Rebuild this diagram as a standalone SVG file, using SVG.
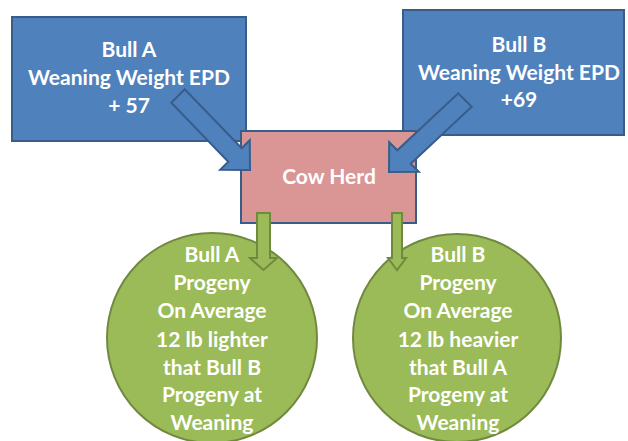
<svg xmlns="http://www.w3.org/2000/svg" width="628" height="441" viewBox="0 0 628 441">
<style>
.box{fill:#4F81BD;stroke:#385D8A;stroke-width:2}
.cow{fill:#D99694;stroke:#385D8A;stroke-width:2}
.circ{fill:#9BBB59;stroke:#71893F;stroke-width:2}
.barr{fill:#4F81BD;stroke:#385D8A;stroke-width:2;stroke-linejoin:miter}
.garr{fill:#9BBB59;stroke:#71893F;stroke-width:2}
text{font-family:Lato,"Liberation Sans",sans-serif;font-weight:bold;font-size:21px;fill:#fff;text-anchor:middle}
</style>
<rect width="628" height="441" fill="#fff"/>
<g id="bullA">
<rect class="box" x="12" y="17" width="234" height="124"/>
<text x="129" y="57">Bull A</text>
<text x="129" y="85">Weaning Weight EPD</text>
<text x="129" y="113">+ 57</text>
</g>
<g id="bullB">
<rect class="box" x="403" y="10" width="221" height="125"/>
<text x="519" y="52">Bull B</text>
<text x="519" y="80">Weaning Weight EPD</text>
<text x="519" y="107">+69</text>
</g>
<g id="cowHerd">
<rect class="cow" x="241" y="131" width="175" height="92"/>
<text x="329" y="184">Cow Herd</text>
</g>
<g id="progenyA">
<circle class="circ" cx="212" cy="338" r="105"/>
<text x="212" y="262">Bull A</text>
<text x="212" y="290">Progeny</text>
<text x="212" y="318">On Average</text>
<text x="212" y="347">12 lb lighter</text>
<text x="212" y="375">that Bull B</text>
<text x="212" y="402">Progeny at</text>
<text x="212" y="430">Weaning</text>
</g>
<g id="progenyB">
<circle class="circ" cx="457" cy="338" r="104"/>
<text x="458" y="262">Bull B</text>
<text x="458" y="290">Progeny</text>
<text x="458" y="318">On Average</text>
<text x="458" y="347">12 lb heavier</text>
<text x="458" y="375">that Bull A</text>
<text x="458" y="402">Progeny at</text>
<text x="458" y="430">Weaning</text>
</g>
<g id="connectors">
<polygon class="barr" points="184.7,89.3 241.7,148.3 249.8,140.2 250,170 220.2,169.8 228.3,161.7 171.3,102.7"/>
<polygon class="barr" points="458.3,93.3 397.3,150.3 389.2,142.2 389,172 418.8,171.8 410.7,163.7 471.7,106.7"/>
<polygon class="garr" points="257,213 270,213 270,258 277,258 263.5,270 250,258 257,258"/>
<polygon class="garr" points="392,213 402,213 402,258 406,258 397,270 388,258 392,258"/>
</g>
</svg>
